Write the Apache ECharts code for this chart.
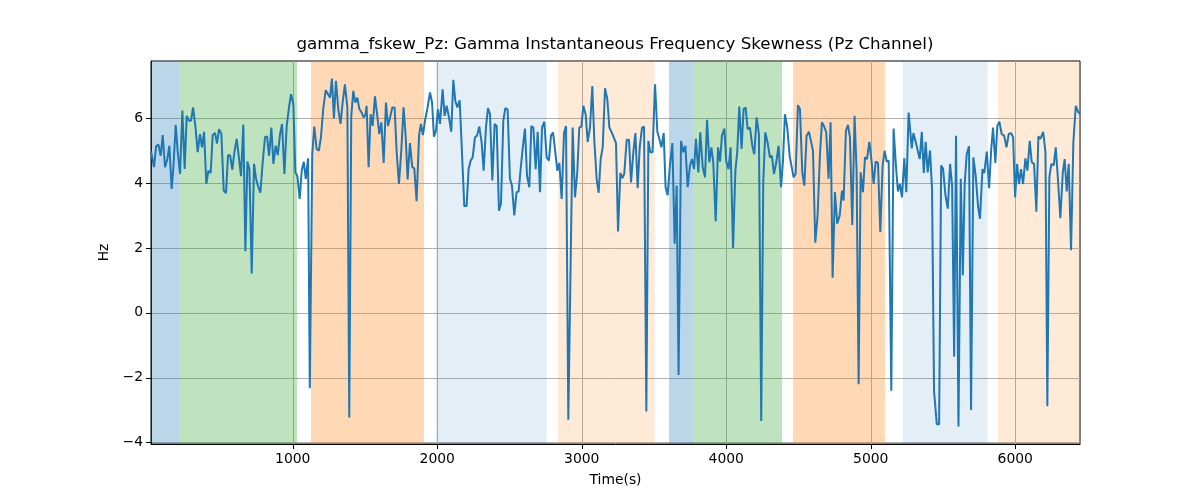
<!DOCTYPE html>
<html lang="en">
<head>
  <meta charset="UTF-8">
  <script src="https://cdn.jsdelivr.net/npm/echarts@6/dist/echarts.min.js"></script>
  <title>gamma_fskew_Pz</title>
</head>
<body style="margin:0">
  <div id="chart" style="width: 1200px; height: 500px"></div>
  <script>
    // time (s) and skewness values
    const times = [
      19,40,54,70,86,100,116,132,146,162, 174,190,204,220,236,252,266,282,296,310,
      326,342,358,372,386,402,416,432,446,462, 476,490,506,522,538,552,566,582,596,612,
      626,642,658,672,686,700,716,732,746,762, 776,792,808,822,836,852,866,882,896,912,
      926,942,958,974,988,1004,1018,1032,1048,1062, 1076,1090,1106,1118,
      1135,1149,1165,1181,1195,1211,1228,1241,1258,1271, 1285,1299,1315,1331,1345,1361,1378,1391,1405,1419,
      1433,1447,1461,1477,1491,1504,1511,1525,1539,1553, 1569,1585,1599,1613,1629,1645,1659,1673,1689,1705,
      1719,1735,1751,1767,1781,1795,1811,1827,1841,1857, 1874,1887,1901,1915,1931,1950,1964,1977,1991,2005,
      2019,2037,2051,2065,2081,2097,2111,2125,2139,2155,
      2171,2187,2203,2217,2231,2245,2261,2275,2291,2307, 2321,2337,2351,2365,2381,2397,2411,2427,2441,2457,
      2471,2487,2503,2517,2533,2549,2563,2577,2591,2607, 2621,2637,2651,2665,2681,2695,2711,2725,2741,2757,
      2773,2787,2801,2817,2831,2845,2861,2877,2891,2907, 2937,2953,2969,2983,2997,3011,3027,3041,3057,3073,
      3087,3103,3117,3131,3145,3161,3177,3191,
      3207,3221,3237,3251,3267,3281,3294,3311,3327,3341, 3357,3371,3387,3401,3417,3431,3447,3461,3474,3490,
      3507,3523,3537,3551,3567,3580,3594,3610,3627,3643, 3657,3670,3687,3703,3717,3733,3749,3763,3777,3790,
      3807,3820,3837,3853,3867,3883,3897,3910,3927,3943, 3957,3970,3987,4000,4016,4030,4047,4063,4076,4090,
      4106,4120,4134,4148,
      4164,4180,4194,4210,4226,4242,4256,4270,4286,4302, 4316,4330,4346,4362,4379,4392,4406,4422,4439,4452,
      4466,4480,4496,4510,4526,4540,4556,4572,4586,4600, 4616,4632,4648,4662,4676,4692,4708,4722,4736,4752,
      4768,4785,4801,4812,4828,4842,4856,4872,4888,4902, 4916,4930,4946,4960,4974,4990,5004,5020,5034,5050,
      5066,5082,5096,5110,5124,5142,5158,5174,5188,5202, 5216,5232,5246,5262,
      5284,5295,5311,5325,5339,5353,5367,5380,5394,5410, 5424,5438,5457,5473,5487,5500,5517,5533,5549,5563,
      5577,5590,5607,5623,5637,5650,5664,5680,5694,5710, 5726,5743,5756,5773,5786,5803,5819,5833,5846,5862,
      5876,5890,5906,5923,5939,5955,5971,5985,5999,6013, 6026,6040,6054,6070,6084,6100,6114,6130,6146,6160,
      6174,6193,6209,6222,6236,6250,6266,6280,6296,6312, 6329,6342,6356,6370,6386,6402,6419,6435,6448
    ];
    const values = [
      4.97,4.49,5.13,5.19,4.84,5.48,4.49,4.74,5.15,3.82, 4.49,5.79,4.95,4.28,6.23,4.43,6.07,5.92,5.92,6.33,
      5.76,4.95,5.51,5.10,5.58,3.97,4.38,4.31,5.48,5.54, 5.22,5.66,5.51,3.77,3.69,4.86,4.86,4.41,4.95,5.36,
      4.84,4.21,5.80,1.90,4.66,4.43,1.21,4.59,4.13,3.87, 3.70,4.64,5.41,5.44,4.84,5.71,4.59,5.15,4.86,5.51,
      5.82,4.28,5.76,6.33,6.74,6.43,4.33,4.21,3.51,4.38, 4.66,4.13,4.76,-2.32,
      4.89,5.74,5.05,5.00,5.41,6.28,6.86,6.89,6.63,7.22, 5.99,7.15,6.28,5.82,6.48,7.04,6.33,-3.22,6.07,6.84,
      6.48,6.63,6.28,6.17,6.02,6.12,6.38,4.49,6.12,5.76, 6.67,6.07,5.51,5.87,4.62,6.48,5.76,6.02,6.33,6.33,
      4.95,3.97,5.00,6.33,5.46,4.11,5.23,4.49,4.45,3.44, 5.46,5.82,5.48,5.92,6.28,6.79,6.48,5.43,5.61,6.28,
      5.82,6.89,6.07,6.38,6.02,5.58,7.18,6.53,6.33,6.55,
      4.95,3.29,3.29,4.43,4.69,4.79,5.41,5.46,5.74,5.25, 4.38,5.71,6.31,6.12,4.08,5.82,5.76,3.15,3.36,5.92,
      6.31,6.26,4.13,3.92,3.00,3.72,3.74,4.43,5.05,5.68, 4.23,3.87,5.76,5.71,4.43,5.58,3.72,5.71,5.89,4.79,
      4.69,5.46,5.56,4.95,4.38,4.62,3.51,5.54,5.76,-3.29, 5.71,3.56,4.33,5.71,5.73,6.38,6.12,5.27,5.71,6.99,
      5.30,4.13,3.70,4.74,5.10,6.92,6.58,5.71,
      5.56,5.41,5.23,2.51,4.31,4.15,4.28,5.33,5.33,4.02, 4.95,5.54,3.84,5.10,5.71,5.74,-3.04,5.30,4.95,4.95,
      7.04,5.58,5.36,5.10,5.54,3.87,3.62,4.54,5.23,2.13, 3.92,-1.91,5.30,4.95,5.15,3.87,4.54,4.74,4.43,5.36,
      4.33,5.56,4.49,4.18,5.95,4.64,5.10,4.64,2.82,5.10, 4.66,5.46,5.68,4.66,4.43,5.10,2.00,4.38,4.95,6.36,
      5.05,6.28,6.33,5.66,
      5.71,5.15,4.89,6.02,5.51,-3.33,4.02,5.56,5.25,4.79, 4.84,4.28,4.64,5.15,3.87,4.64,6.12,5.71,4.82,4.79,
      4.18,4.28,6.40,6.28,4.33,3.92,5.46,5.58,5.30,5.00, 2.16,3.00,4.84,5.87,5.76,5.56,4.13,5.87,1.08,3.72,
      2.75,3.00,3.77,3.46,5.61,5.79,5.41,2.71,6.07,4.38, -2.20,4.33,3.72,4.79,4.74,5.27,4.74,3.97,4.66,4.62,
      2.49,4.54,5.00,4.66,4.69,-2.40,5.68,4.54,3.74,3.97, 3.56,4.76,3.72,6.17,
      5.07,5.54,5.27,5.00,4.74,5.58,4.31,5.27,4.33,5.00, 3.82,-2.42,-3.43,-3.43,4.54,4.45,3.62,3.21,4.59,3.92,
      -1.35,5.46,-3.50,4.13,1.16,3.97,4.89,5.13,-2.99,4.79, 4.23,3.26,2.90,4.43,4.31,4.97,3.84,5.00,5.71,4.62,
      5.76,5.89,5.51,5.46,5.10,5.51,5.54,5.41,3.56,4.59, 3.97,4.43,3.97,4.76,4.38,5.30,4.64,4.59,3.12,5.44,
      5.36,5.58,4.95,-2.88,4.18,4.59,4.54,5.10,4.08,2.92, 4.33,4.74,3.74,4.59,1.93,5.25,6.38,6.19,6.12
    ];

    // shaded stages
    const spanStart = [19, 213, 1126, 1989, 2836, 3604, 3775, 4462, 5223, 5881];
    const spanEnd   = [213, 1031, 1908, 2757, 3505, 3775, 4386, 5098, 5809, 6448];
    const spanColor = [
      'rgba(31,119,180,0.3)', 'rgba(44,160,44,0.3)', 'rgba(255,127,14,0.3)',
      'rgba(31,119,180,0.12)', 'rgba(255,127,14,0.16)', 'rgba(31,119,180,0.3)',
      'rgba(44,160,44,0.3)', 'rgba(255,127,14,0.3)', 'rgba(31,119,180,0.12)',
      'rgba(255,127,14,0.16)'
    ];

    const xTicks = [1000, 2000, 3000, 4000, 5000, 6000];
    const yTicks = [-4, -2, 0, 2, 4, 6];

    const font = 'DejaVu Sans';
    const lineData = times.map((t, i) => [t, values[i]]);
    const areas = spanStart.map((s, i) => [
      { xAxis: s, itemStyle: { color: spanColor[i] } },
      { xAxis: spanEnd[i] }
    ]);

    const chart = echarts.init(document.getElementById('chart'));
    chart.setOption({
      animation: false,
      title: {
        text: 'gamma_fskew_Pz: Gamma Instantaneous Frequency Skewness (Pz Channel)',
        left: 615, top: 36, padding: 0, textAlign: 'center',
        textStyle: { fontFamily: font, fontSize: 16.7, fontWeight: 'normal', color: '#000' }
      },
      grid: {
        left: 151, right: 120, top: 61, bottom: 56,
        show: true, borderColor: '#000', borderWidth: 1, backgroundColor: 'transparent'
      },
      xAxis: {
        type: 'value', min: 19, max: 6448,
        name: 'Time(s)', nameLocation: 'middle', nameGap: 29,
        nameTextStyle: { fontFamily: font, fontSize: 13.9, color: '#000' },
        axisLine: { show: true, onZero: false, lineStyle: { color: '#000', width: 1 } },
        axisTick: { show: true, length: 5, customValues: xTicks, lineStyle: { color: '#000' } },
        axisLabel: {
          customValues: xTicks, margin: 8, fontFamily: font, fontSize: 13.9, color: '#000',
          formatter: v => String(v)
        },
        splitLine: { show: true, lineStyle: { color: '#b0b0b0', width: 1 } }
      },
      yAxis: {
        type: 'value', min: -4.04, max: 7.76,
        name: 'Hz', nameLocation: 'middle', nameGap: 36, nameRotate: 90,
        nameTextStyle: { fontFamily: font, fontSize: 13.9, color: '#000' },
        axisLine: { show: true, onZero: false, lineStyle: { color: '#000', width: 1 } },
        axisTick: { show: true, length: 5, customValues: yTicks, lineStyle: { color: '#000' } },
        axisLabel: {
          customValues: yTicks, margin: 8, fontFamily: font, fontSize: 13.9, color: '#000',
          formatter: v => (v < 0 ? '\u2212' + Math.abs(v) : String(v))
        },
        splitLine: { show: true, lineStyle: { color: '#b0b0b0', width: 1 } }
      },
      series: [{
        type: 'line',
        data: lineData,
        showSymbol: false,
        lineStyle: { color: '#1f77b4', width: 2 },
        itemStyle: { color: '#1f77b4' },
        markArea: { silent: true, data: areas }
      }]
    });
  </script>
</body>
</html>
